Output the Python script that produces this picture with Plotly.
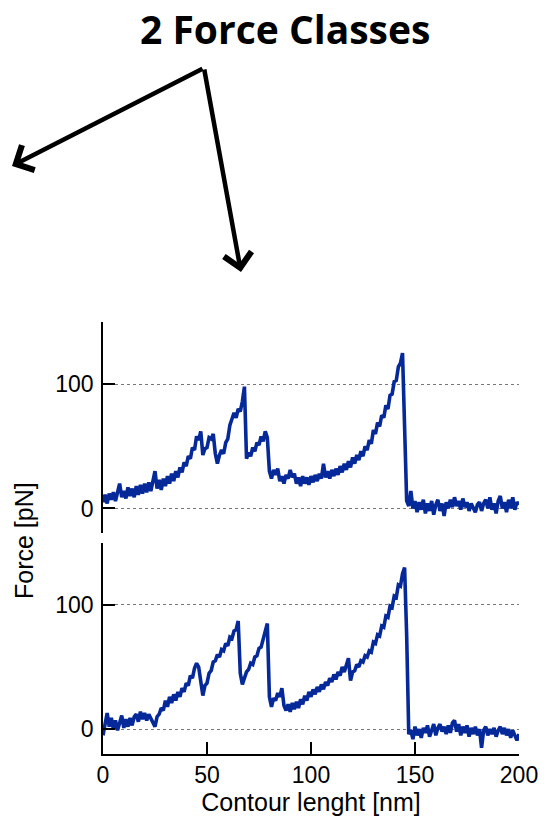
import plotly.graph_objects as go
from plotly.subplots import make_subplots

# Contour length grid [nm]
contour_nm = list(range(0, 201))

# Force trace, class 1 (top panel) [pN]
force_top = [
    5, 11, 4, 12, 7, 13, 6, 12, 20, 9,
    14, 8, 17, 10, 16, 9, 18, 11, 19, 12,
    20, 13, 21, 14, 22, 30, 16, 23, 15, 24,
    18, 26, 20, 28, 22, 30, 25, 33, 29, 37,
    34, 42, 40, 49, 47, 58, 55, 62, 43, 48,
    49, 57, 56, 60, 44, 36, 43, 47, 44, 53,
    56, 67, 72, 77, 73, 80, 78, 86, 98, 40,
    45, 42, 49, 46, 53, 51, 58, 54, 62, 57,
    30, 24, 31, 27, 32, 22, 26, 20, 27, 24,
    31, 25, 28, 20, 25, 18, 26, 20, 25, 19,
    26, 21, 27, 22, 28, 24, 36, 25, 30, 24,
    31, 26, 32, 27, 34, 29, 36, 31, 38, 33,
    41, 36, 43, 39, 46, 42, 50, 47, 55, 52,
    63, 60, 69, 66, 75, 73, 83, 80, 91, 92,
    102, 103, 114, 117, 125, 56, 6, 2, 14, 0,
    6, -3, 5, -1, 7, -4, 4, -2, 6, -5,
    3, 7, -2, 4, -6, 5, 0, 7, 1, 9,
    2, 6, -1, 8, 1, 5, -2, 4, 0, -3,
    3, 5, -2, 4, 7, 0, 9, -1, 4, -4,
    6, 10, 0, 5, -3, 7, 0, 9, -1, 5,
    3,
]

# Force trace, class 2 (bottom panel) [pN]
force_bottom = [
    -5, 4, 13, 2, 9, 0, 7, -1, 6, 11,
    1, 8, 2, 9, 3, 10, 12, 6, 14, 8,
    13, 7, 12, 9, 5, 2, 10, 12, 17, 15,
    23, 18, 26, 21, 28, 23, 30, 26, 33, 30,
    37, 35, 43, 41, 49, 53, 50, 37, 27, 35,
    37, 45, 47, 54, 55, 60, 58, 64, 63, 69,
    67, 74, 73, 79, 80, 87, 45, 36, 41, 46,
    48, 53, 52, 58, 59, 65, 66, 73, 79, 85,
    26, 18, 25, 23, 29, 26, 33, 19, 15, 20,
    14, 21, 16, 22, 17, 24, 20, 27, 23, 30,
    26, 32, 28, 34, 30, 36, 32, 38, 35, 41,
    38, 44, 40, 46, 43, 50, 46, 53, 57, 39,
    46, 47, 52, 50, 55, 54, 59, 58, 63, 62,
    70, 69, 76, 75, 83, 82, 91, 90, 99, 98,
    107, 106, 116, 115, 125, 130, 75, -4, -1, -8,
    2, -5, 0, -7, 1, -3, 3, -6, -1, 4,
    -5, 1, 4, -2, 2, -4, 3, -3, 5, 7,
    -2, 4, -5, 2, -3, 3, -6, 1, -4, 2,
    -5, 0, -15, -1, 2, -5, 0, -4, 1, -6,
    -1, 2, -4, 1, -5, 0, -7, -1, -5, -9,
    -4,
]

x_ticks = [0, 50, 100, 150, 200]
y_ticks = [0, 100]
y_range = [-20, 150]
x_range = [0, 200]

title_text = "2 Force Classes"
x_title = "Contour lenght [nm]"
y_title = "Force [pN]"

line_color = "#06299a"
font_fam = "Liberation Sans, Arial, Helvetica, sans-serif"

fig = make_subplots(rows=2, cols=1, shared_xaxes=False, vertical_spacing=0.0)

fig.add_trace(go.Scatter(x=contour_nm, y=force_top, mode="lines",
                         line=dict(color=line_color, width=3.6), showlegend=False),
              row=1, col=1)
fig.add_trace(go.Scatter(x=contour_nm, y=force_bottom, mode="lines",
                         line=dict(color=line_color, width=3.6), showlegend=False),
              row=2, col=1)

W, H = 552, 821
ml, mr, mt, mb = 103, 33, 322, 67
plot_w = W - ml - mr
plot_h = H - mt - mb

top_dom = [(754 - 533.3) / plot_h, 1.0]
bot_dom = [0.0, (754 - 542.7) / plot_h]

yaxis_common = dict(range=y_range, tickvals=y_ticks, ticks="inside", ticklen=12,
                    tickwidth=1.5, tickcolor="black", showline=True, linecolor="black",
                    linewidth=1.5, showgrid=True, gridcolor="#777777", griddash="dot",
                    gridwidth=1, zeroline=False, tickfont=dict(size=23, color="black"),
                    ticklabelstandoff=3)

fig.update_layout(
    width=W, height=H,
    margin=dict(l=ml, r=mr, t=mt, b=mb),
    paper_bgcolor="white", plot_bgcolor="white",
    font=dict(family=font_fam, color="black"),
    xaxis=dict(range=x_range, showline=False, showticklabels=False, ticks="",
               showgrid=False, zeroline=False, domain=[0, 1]),
    xaxis2=dict(range=x_range, tickvals=x_ticks, ticks="inside", ticklen=12,
                tickwidth=1.5, tickcolor="black", showline=True, linecolor="black",
                linewidth=1.5, showgrid=False, zeroline=False,
                tickfont=dict(size=23, color="black"),
                title=dict(text=x_title, font=dict(size=25, color="black"), standoff=4),
                domain=[0, 1]),
    yaxis=dict(domain=top_dom, **yaxis_common),
    yaxis2=dict(domain=bot_dom, **yaxis_common),
)

def px_x(p):
    return (p - ml) / plot_w

def px_y(p):
    return (H - mb - p) / plot_h

annots = [
    dict(text="<b>" + title_text + "</b>", x=px_x(285), y=px_y(28), xref="paper", yref="paper",
         showarrow=False, xanchor="center", yanchor="middle",
         font=dict(family="Open Sans, Lato, sans-serif", size=39, color="black")),
    dict(text=y_title, x=px_x(24), y=px_y(541), xref="paper", yref="paper",
         showarrow=False, textangle=-90, xanchor="center", yanchor="middle",
         font=dict(size=25, color="black")),
    dict(text="", x=px_x(12), y=px_y(166), xref="paper", yref="paper",
         showarrow=True, ax=204 - 12, ay=68 - 166, arrowhead=4, arrowsize=1.2,
         arrowwidth=4.5, arrowcolor="black", standoff=0),
    dict(text="", x=px_x(241), y=px_y(272), xref="paper", yref="paper",
         showarrow=True, ax=204 - 241, ay=68 - 272, arrowhead=4, arrowsize=1.2,
         arrowwidth=4.5, arrowcolor="black", standoff=0),
]
fig.update_layout(annotations=annots)

fig.write_html("out.html")
